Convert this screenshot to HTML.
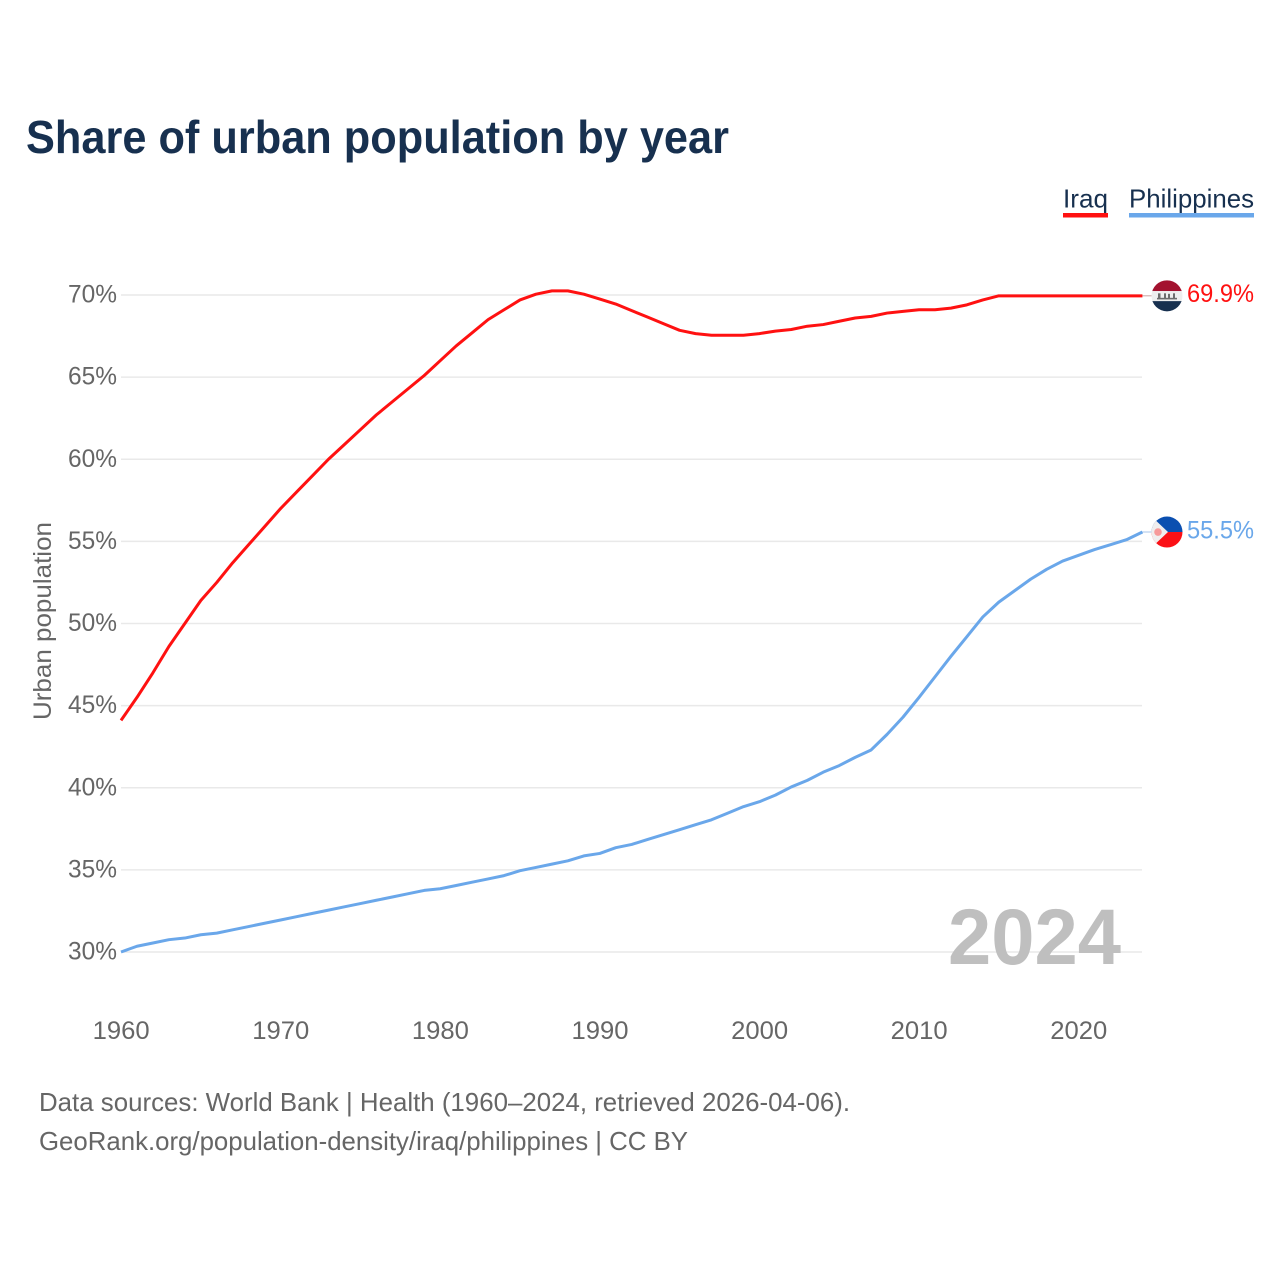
<!DOCTYPE html>
<html lang="en">
<head>
<meta charset="utf-8">
<title>Share of urban population by year</title>
<style>
html,body{margin:0;padding:0;background:#fff;}
svg{display:block;font-family:"Liberation Sans",Arial,sans-serif;}
</style>
</head>
<body>
<svg id="chart" xmlns="http://www.w3.org/2000/svg" width="1280" height="1280" viewBox="0 0 1280 1280">
  <rect width="1280" height="1280" fill="#ffffff"/>
  <text x="26" y="153" font-size="46" font-weight="700" fill="#17304f" textLength="703" lengthAdjust="spacingAndGlyphs">Share of urban population by year</text>

  <g>
    <g>
      <text x="1063" y="207.5" font-size="26" fill="#17304f" textLength="45" lengthAdjust="spacingAndGlyphs">Iraq</text>
      <rect x="1063" y="213" width="45" height="4.5" fill="#ff1111"/>
    </g>
    <g>
      <text x="1129" y="207.5" font-size="26" fill="#17304f" textLength="125" lengthAdjust="spacingAndGlyphs">Philippines</text>
      <rect x="1129" y="213" width="125" height="4.5" fill="#6aa7ea"/>
    </g>
  </g>

  <g id="grid"></g>
  <g id="yticks"></g>
  <g id="xticks"></g>
  <text transform="translate(51,621) rotate(-90)" text-anchor="middle" font-size="25" fill="#666666" textLength="198" lengthAdjust="spacingAndGlyphs">Urban population</text>

  <text x="948" y="964" font-size="79" font-weight="700" fill="#bfbfbf" textLength="173" lengthAdjust="spacingAndGlyphs">2024</text>

  <g id="series"></g>
  <g id="endmarks"></g>

  <g>
    <text x="39" y="1111" font-size="26" fill="#666666" textLength="811" lengthAdjust="spacingAndGlyphs">Data sources: World Bank | Health (1960–2024, retrieved 2026-04-06).</text>
    <text x="39" y="1150" font-size="26" fill="#666666" textLength="649" lengthAdjust="spacingAndGlyphs">GeoRank.org/population-density/iraq/philippines | CC BY</text>
  </g>
</svg>
<script>
const startYear = 1960;
const yTickValues = [30, 35, 40, 45, 50, 55, 60, 65, 70];
const xTickValues = [1960, 1970, 1980, 1990, 2000, 2010, 2020];
const iraqValues = [44.1, 45.5, 47.0, 48.6, 50.0, 51.4, 52.5, 53.7, 54.8, 55.9,
  57.0, 58.0, 59.0, 60.0, 60.9, 61.8, 62.7, 63.5, 64.3, 65.1,
  66.0, 66.9, 67.7, 68.5, 69.1, 69.7, 70.05, 70.25, 70.25, 70.05,
  69.75, 69.45, 69.05, 68.65, 68.25, 67.85, 67.65, 67.55, 67.55, 67.55,
  67.65, 67.8, 67.9, 68.1, 68.2, 68.4, 68.6, 68.7, 68.9, 69.0,
  69.1, 69.1, 69.2, 69.4, 69.7, 69.95, 69.95, 69.95, 69.95, 69.95,
  69.95, 69.95, 69.95, 69.95, 69.95];
const philippinesValues = [30.0, 30.35, 30.55, 30.75, 30.85, 31.05, 31.15, 31.35, 31.55, 31.75,
  31.95, 32.15, 32.35, 32.55, 32.75, 32.95, 33.15, 33.35, 33.55, 33.75,
  33.85, 34.05, 34.25, 34.45, 34.65, 34.95, 35.15, 35.35, 35.55, 35.85,
  36.0, 36.35, 36.55, 36.85, 37.15, 37.45, 37.75, 38.05, 38.45, 38.85,
  39.15, 39.55, 40.05, 40.45, 40.95, 41.35, 41.85, 42.3, 43.25, 44.3,
  45.5, 46.75, 48.0, 49.2, 50.4, 51.3, 52.0, 52.7, 53.3, 53.8,
  54.15, 54.5, 54.8, 55.1, 55.57];
const iraqLabel = "69.9%";
const philippinesLabel = "55.5%";

const NS = "http://www.w3.org/2000/svg";
function xScale(year) { return 121 + (year - 1960) * 15.96; }
function yScale(v) { return 952 - (v - 30) * 16.425; }
function make(tag, attrs, parent) {
  const el = document.createElementNS(NS, tag);
  for (const k in attrs) el.setAttribute(k, attrs[k]);
  parent.appendChild(el);
  return el;
}
const gridG = document.getElementById("grid");
const yG = document.getElementById("yticks");
const xG = document.getElementById("xticks");
const seriesG = document.getElementById("series");
const endG = document.getElementById("endmarks");

yTickValues.forEach(function (v) {
  const line = make("line", {x1: 121, x2: 1142, y1: yScale(v), y2: yScale(v), stroke: "#e9e9e9", "stroke-width": 1.5}, gridG);
  
  
  const t = make("text", {x: 68, y: yScale(v) + 7.5, "font-size": 25, fill: "#666666", textLength: 49, lengthAdjust: "spacingAndGlyphs"}, yG);
  t.textContent = v + "%";
  
  
});

xTickValues.forEach(function (yr) {
  const t = make("text", {x: xScale(yr) + 0.2, y: 1039, "text-anchor": "middle", "font-size": 25, fill: "#666666", textLength: 57, lengthAdjust: "spacingAndGlyphs"}, xG);
  t.textContent = yr;
  
  
});

function linePoints(values) {
  return values.map(function (v, i) { return xScale(startYear + i).toFixed(2) + "," + yScale(v).toFixed(2); }).join(" ");
}
const iraqLine = make("polyline", {points: linePoints(iraqValues), fill: "none", stroke: "#ff1111", "stroke-width": 3, "stroke-linejoin": "round"}, seriesG);


const phLine = make("polyline", {points: linePoints(philippinesValues), fill: "none", stroke: "#6aa7ea", "stroke-width": 3, "stroke-linejoin": "round"}, seriesG);



/* End connectors, flags and value labels follow the final data point */
const lastX = xScale(startYear + iraqValues.length - 1);
const iy = yScale(iraqValues[iraqValues.length - 1]);
const py = yScale(philippinesValues[philippinesValues.length - 1]);

const c1 = make("line", {x1: lastX, x2: 1152, y1: iy, y2: iy, stroke: "#c8a0a0", "stroke-width": 1}, endG);


const c2 = make("line", {x1: lastX, x2: 1152, y1: py, y2: py, stroke: "#a9c6e8", "stroke-width": 1}, endG);



const defs = make("defs", {}, endG);
const cp1 = make("clipPath", {id: "clip-iq"}, defs);
make("circle", {cx: 1167, cy: iy, r: 15.5}, cp1);
const cp2 = make("clipPath", {id: "clip-ph"}, defs);
make("circle", {cx: 1167, cy: py, r: 15.5}, cp2);

const iqFlag = make("g", {"clip-path": "url(#clip-iq)"}, endG);


make("rect", {x: 1151, y: iy - 16, width: 32, height: 11.3, fill: "#a3122f"}, iqFlag);
make("rect", {x: 1151, y: iy - 4.7, width: 32, height: 10, fill: "#eeeeee"}, iqFlag);
make("rect", {x: 1151, y: iy + 5.3, width: 32, height: 11, fill: "#17304f"}, iqFlag);
make("rect", {x: 1157, y: iy + 2, width: 20, height: 1.6, fill: "#6d6d6d"}, iqFlag);
make("rect", {x: 1158, y: iy - 2.5, width: 2.5, height: 5, fill: "#6d6d6d"}, iqFlag);
make("rect", {x: 1164, y: iy - 2.5, width: 2, height: 5, fill: "#6d6d6d"}, iqFlag);
make("rect", {x: 1168, y: iy - 2, width: 2, height: 4.5, fill: "#6d6d6d"}, iqFlag);
make("rect", {x: 1173, y: iy - 2.5, width: 2, height: 5, fill: "#6d6d6d"}, iqFlag);

const phFlag = make("g", {"clip-path": "url(#clip-ph)"}, endG);


make("rect", {x: 1151, y: py - 16, width: 32, height: 16, fill: "#0b4fb0"}, phFlag);
make("rect", {x: 1151, y: py, width: 32, height: 16.5, fill: "#fb1016"}, phFlag);
make("polygon", {points: (1150) + "," + (py - 17) + " " + (1168) + "," + (py) + " " + (1150) + "," + (py + 17), fill: "#f0eeee"}, phFlag);
make("circle", {cx: 1158, cy: py, r: 3.8, fill: "#f79a9a"}, phFlag);

const l1 = make("text", {x: 1187, y: iy + 6, "font-size": 25, fill: "#ff1111", textLength: 67, lengthAdjust: "spacingAndGlyphs"}, endG);
l1.textContent = iraqLabel;


const l2 = make("text", {x: 1187, y: py + 6.5, "font-size": 25, fill: "#6aa7ea", textLength: 67, lengthAdjust: "spacingAndGlyphs"}, endG);
l2.textContent = philippinesLabel;


</script>
</body>
</html>
